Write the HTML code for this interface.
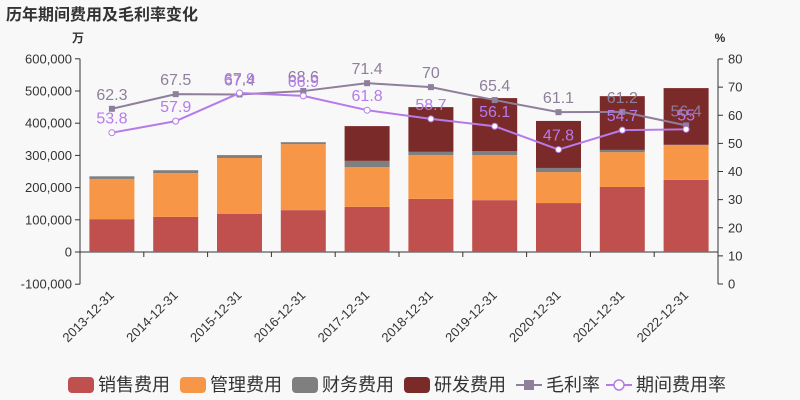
<!DOCTYPE html>
<html><head><meta charset="utf-8"><style>
body{margin:0;background:#f8f8f8;}
svg{display:block;font-family:"Liberation Sans","Noto Sans CJK SC",sans-serif;}
</style></head><body>
<svg id="c" width="800" height="400">
<text x="6" y="20" font-size="16" font-weight="bold" fill="#333">历年期间费用及毛利率变化</text>
</svg>
<script>
const categories=["2013-12-31","2014-12-31","2015-12-31","2016-12-31","2017-12-31","2018-12-31","2019-12-31","2020-12-31","2021-12-31","2022-12-31"];
const sales=[102000,109000,118000,130000,140000,165000,161000,152000,202000,224000];
const mgmt=[125000,136000,174000,205000,124000,136000,140000,96000,108000,108000];
const fin=[8000,9000,9000,6000,19000,10000,12000,13000,7000,1000];
const rd=[0,0,0,0,108000,139000,165000,146000,167000,176000];
const gross=[62.3,67.5,67.4,68.6,71.4,70,65.4,61.1,61.2,56.4];
const period=[53.8,57.9,67.9,66.9,61.8,58.7,56.1,47.8,54.7,55];
const leftTicks=[-100000,0,100000,200000,300000,400000,500000,600000];
const rightTicks=[0,10,20,30,40,50,60,70,80];
const NS="http://www.w3.org/2000/svg";
const svg=document.getElementById('c');
const X0=80,X1=718,bw=(X1-X0)/categories.length;
const yL=v=>252-v/100000*32.2;
const yR=v=>284-v/80*225;
const xC=i=>X0+bw*(i+0.5);
function mk(t,a,txt){const e=document.createElementNS(NS,t);for(const k in a)e.setAttribute(k,a[k]);if(txt!==undefined)e.textContent=txt;svg.appendChild(e);return e;}
let e;
e=mk('text',{x:78,y:42,'font-size':12,'font-weight':'bold',fill:'#333','text-anchor':'middle'},'万');


e=mk('text',{x:720,y:42,'font-size':12,'font-weight':'bold',fill:'#333','text-anchor':'middle'},'%');


leftTicks.forEach(v=>{e=mk('text',{x:72,y:yL(v)+4.5,'font-size':13,fill:'#333','text-anchor':'end'},v.toLocaleString('en-US'));


mk('line',{x1:75,x2:80,y1:yL(v),y2:yL(v),stroke:'#333'});});
rightTicks.forEach(v=>{e=mk('text',{x:728,y:yR(v)+4.5,'font-size':13,fill:'#333'},v);


mk('line',{x1:718,x2:723,y1:yR(v),y2:yR(v),stroke:'#333'});});
mk('line',{x1:80,x2:80,y1:yL(600000),y2:yL(-100000),stroke:'#333'});
mk('line',{x1:718,x2:718,y1:yR(80),y2:yR(0),stroke:'#333'});
mk('line',{x1:80,x2:718,y1:yL(0),y2:yL(0),stroke:'#333'});
categories.forEach((c,i)=>{
 mk('line',{x1:X0+bw*i,x2:X0+bw*i,y1:252,y2:257,stroke:'#333'});
 const tx=xC(i)+3,ty=296;
 e=mk('text',{x:tx,y:ty,'font-size':13,fill:'#333','text-anchor':'end',transform:`rotate(-45 ${tx} ${ty})`},c);
 
 
});
const series=[[sales,'#c0504d','sales'],[mgmt,'#f79646','mgmt'],[fin,'#7f7f7f','finance'],[rd,'#7b2a2a','rd']];
categories.forEach((c,i)=>{let base=0;series.forEach(([arr,col,n])=>{const v=arr[i];if(v<=0)return;
 e=mk('rect',{x:xC(i)-22.5,y:yL(base+v),width:45,height:yL(base)-yL(base+v),fill:col});
 
 
 base+=v;});});
function line(arr,col,name,sq){
 e=mk('polyline',{points:arr.map((v,i)=>xC(i)+','+yR(v)).join(' '),fill:'none',stroke:col,'stroke-width':2});
 
 
 arr.forEach((v,i)=>{
  if(sq)e=mk('rect',{x:xC(i)-3,y:yR(v)-3,width:6,height:6,fill:col});
  else e=mk('circle',{cx:xC(i),cy:yR(v),r:3,fill:'#fff',stroke:col});
  
  
  e=mk('text',{x:xC(i),y:yR(v)-9,'font-size':16,fill:col,'text-anchor':'middle'},v);
  
  
 });
}
line(gross,'#8e7f9a','gross-margin',true);
line(period,'#b57bea','period-expense-rate',false);
const leg=[['销售费用','#c0504d',68],['管理费用','#f79646',180],['财务费用','#7f7f7f',292],['研发费用','#7b2a2a',404]];
leg.forEach(([t,c,x])=>{
 e=mk('rect',{x:x,y:377,width:26,height:16,rx:4,fill:c});
 
 
 e=mk('text',{x:x+30,y:391,'font-size':18,fill:'#333'},t);
 
 
});
mk('line',{x1:516,x2:542,y1:385,y2:385,stroke:'#8e7f9a','stroke-width':2});
mk('rect',{x:524,y:380,width:10,height:10,fill:'#8e7f9a'});
e=mk('text',{x:546,y:391,'font-size':18,fill:'#333'},'毛利率');


mk('line',{x1:606,x2:632,y1:385,y2:385,stroke:'#b57bea','stroke-width':2});
mk('circle',{cx:619,cy:385,r:5,fill:'#fff',stroke:'#b57bea','stroke-width':1.5});
e=mk('text',{x:636,y:391,'font-size':18,fill:'#333'},'期间费用率');


</script>
</body></html>
